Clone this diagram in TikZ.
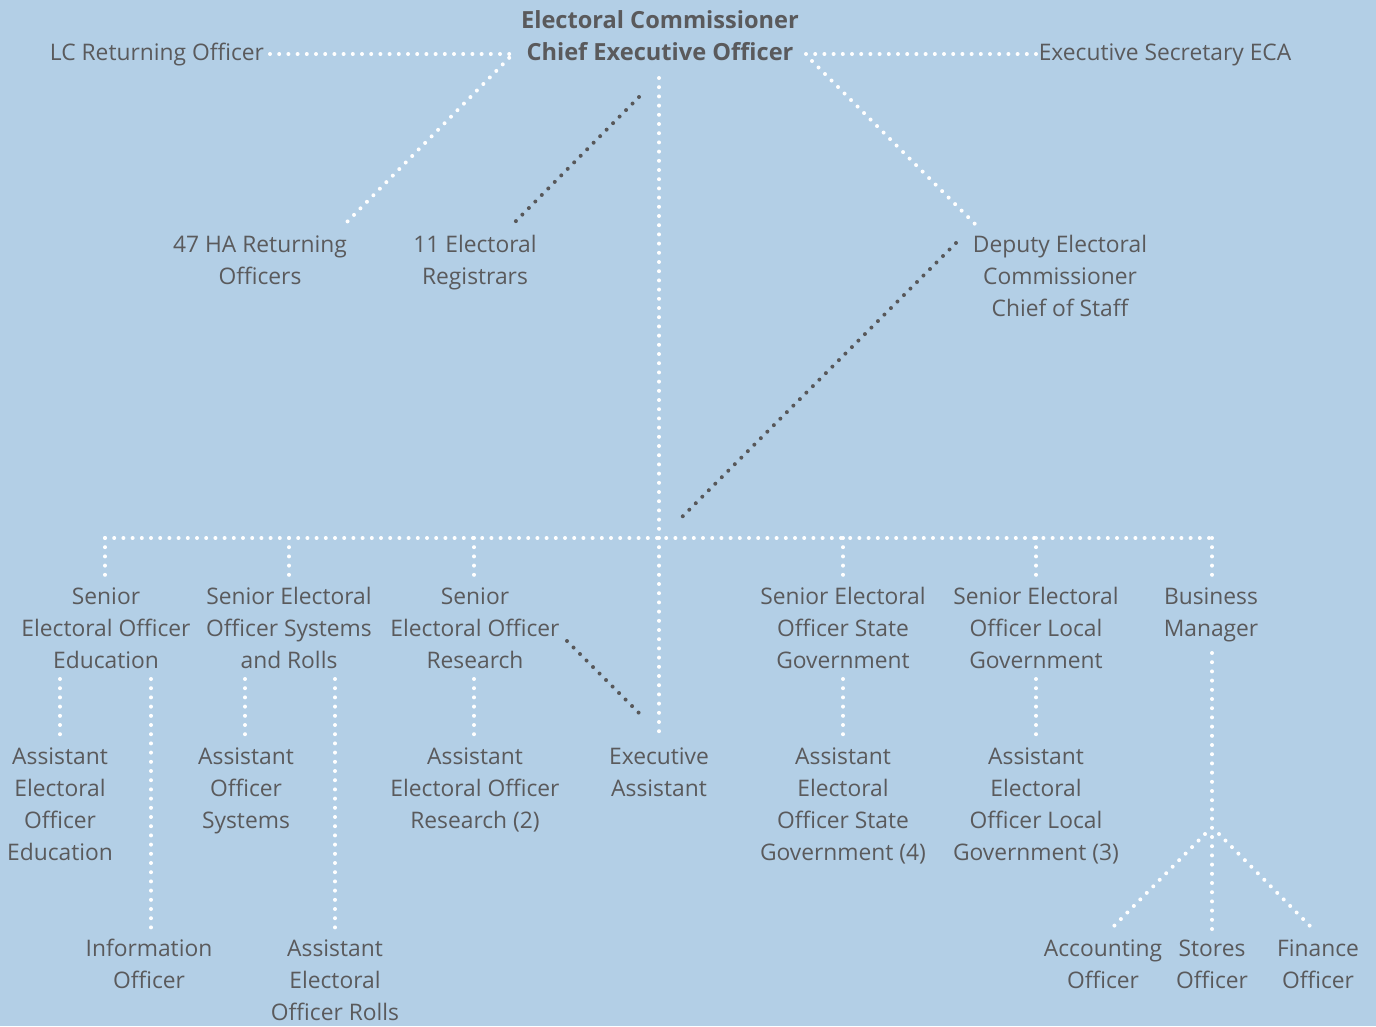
\documentclass[tikz,border=0pt]{standalone}
\usepackage{fontspec}
\setmainfont{Open Sans}
\usetikzlibrary{calc}
\definecolor{bg}{RGB}{179,207,230}
\definecolor{ink}{RGB}{90,90,92}
\definecolor{darkdot}{RGB}{88,88,90}
\tikzset{
  % labels are placed by the baseline of their last line
  lbl/.style={anchor=base, align=center, text=ink, inner sep=0pt,
              font=\fontsize{22.8}{32}\selectfont},
  head/.style={lbl, font=\fontsize{23.6}{32}\selectfont\bfseries},
  wdots/.style={draw=white, line width=4pt, line cap=round, dash pattern=on 0pt off 9.2pt},
  ddots/.style={draw=darkdot, line width=4pt, line cap=round, dash pattern=on 0pt off 9.2pt},
}
\begin{document}
\begin{tikzpicture}[x=1pt,y=-1pt]
\fill[bg] (0,0) rectangle (1376,1026);
\useasboundingbox (0,0) rectangle (1376,1026);

% ---- labels ----
\node[head] (ec)   at (660,28) {Electoral Commissioner};
\node[head] (ceo)  at (660,60) {Chief Executive Officer};
\node[lbl]  (lcro) at (157,60) {LC Returning Officer};
\node[lbl]  (esec) at (1165,60) {Executive Secretary ECA};

\node[lbl] (ha)  at (260,284) {47 HA Returning\\Officers};
\node[lbl] (reg) at (475,284) {11 Electoral\\Registrars};
\node[lbl] (dep) at (1060,316) {Deputy Electoral\\Commissioner\\Chief of Staff};

\node[lbl] (seoE)  at (106,668) {Senior\\Electoral Officer\\Education};
\node[lbl] (seoS)  at (289,668) {Senior Electoral\\Officer Systems\\and Rolls};
\node[lbl] (seoR)  at (475,668) {Senior\\Electoral Officer\\Research};
\node[lbl] (seoSG) at (843,668) {Senior Electoral\\Officer State\\Government};
\node[lbl] (seoLG) at (1036,668) {Senior Electoral\\Officer Local\\Government};
\node[lbl] (bm)    at (1211,636) {Business\\Manager};

\node[lbl] (aeoE)  at (60,860) {Assistant\\Electoral\\Officer\\Education};
\node[lbl] (aos)   at (246,828) {Assistant\\Officer\\Systems};
\node[lbl] (aeoR)  at (475,828) {Assistant\\Electoral Officer\\Research (2)};
\node[lbl] (ea)    at (659,796) {Executive\\Assistant};
\node[lbl] (aeoSG) at (843,860) {Assistant\\Electoral\\Officer State\\Government (4)};
\node[lbl] (aeoLG) at (1036,860) {Assistant\\Electoral\\Officer Local\\Government (3)};

\node[lbl] (io)    at (149,988) {Information\\Officer};
\node[lbl] (aeoRo) at (335,1020) {Assistant\\Electoral\\Officer Rolls};
\node[lbl] (acc)   at (1103,988) {Accounting\\Officer};
\node[lbl] (sto)   at (1212,988) {Stores\\Officer};
\node[lbl] (fin)   at (1318,988) {Finance\\Officer};

% ---- connector end points ----
\coordinate (lcEnd)   at (270,54);
\coordinate (ceoL)    at (513,54);
\coordinate (haTop)   at (345,224);
\coordinate (ceoR)    at (806,54);
\coordinate (esecEnd) at (1036,54);
\coordinate (ceoRd)   at (812,61);
\coordinate (depTop)  at (975,224);
\coordinate (ceoBot)  at (659,78);
\coordinate (eaTop)   at (659,732);
\coordinate (barL)    at (105,538);
\coordinate (barR)    at (1212,538);
\coordinate (regA)    at (639,97);
\coordinate (regB)    at (515,222);
\coordinate (depA)    at (956,243);
\coordinate (depB)    at (682,517);
\coordinate (resA)    at (567,641);
\coordinate (resB)    at (639,713);
\coordinate (bmBot)   at (1212,653);
\coordinate (fork)    at (1212,834);

% ---- white dotted reporting lines ----
\draw[wdots] (lcEnd) -- (ceoL) -- (haTop);
\draw[wdots] (ceoR) -- (esecEnd);
\draw[wdots] (ceoRd) -- (depTop);
\draw[wdots] (ceoBot) -- (eaTop);
\draw[wdots] (barL) -- (barR);
\foreach \x in {105,289,474,843,1036,1212}
  \draw[wdots] (\x,538) -- (\x,575);
\foreach \x in {60,245,474,843,1036}
  \draw[wdots] (\x,679) -- (\x,735);
\foreach \x in {151,335}
  \draw[wdots] (\x,679) -- (\x,930);
\draw[wdots] (bmBot) -- (1212,929);
\draw[wdots] ($(fork)+(-7,0)$) -- (1114,926);
\draw[wdots] ($(fork)+(7,0)$) -- (1310,926);

% ---- dark dotted lines ----
\draw[ddots] (regA) -- (regB);
\draw[ddots] (depA) -- (depB);
\draw[ddots] (resA) -- (resB);
\end{tikzpicture}
\end{document}
